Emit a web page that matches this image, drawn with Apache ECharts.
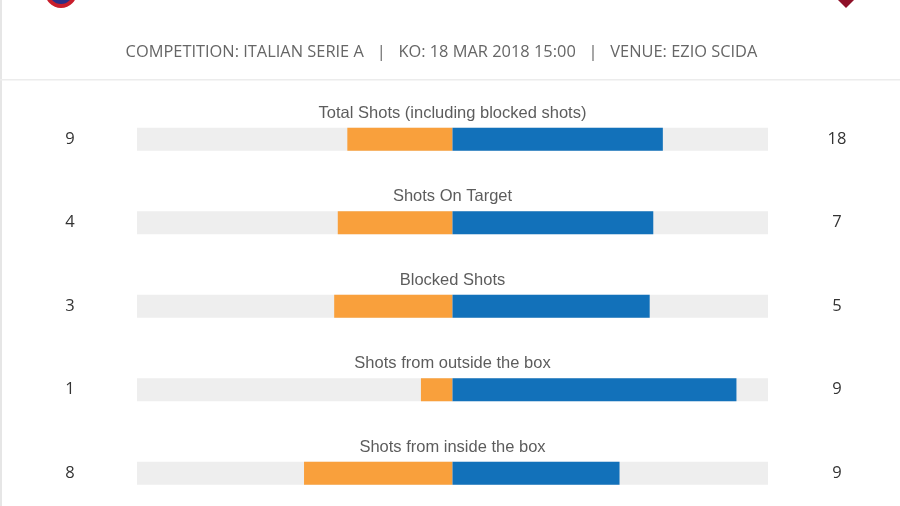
<!DOCTYPE html>
<html>
<head>
<meta charset="utf-8">
<script src="https://cdn.jsdelivr.net/npm/echarts@6/dist/echarts.min.js"></script>
<style>
  html, body { margin: 0; padding: 0; background: #fff; }
  #chart { width: 900px; height: 506px; }
</style>
</head>
<body>
<div id="chart"></div>
<script>
// match stats, home (orange) vs away (blue)
var categories = [
    'Total Shots (including blocked shots)',
    'Shots On Target',
    'Blocked Shots',
    'Shots from outside the box',
    'Shots from inside the box'
];
var homeValues = [9, 4, 3, 1, 8];
var awayValues = [18, 7, 5, 9, 9];

// each side is drawn as its share of the row total
var homeShare = [];
var awayShare = [];
for (var i = 0; i < categories.length; i++) {
    var tot = homeValues[i] + awayValues[i];
    homeShare.push(-homeValues[i] / tot);
    awayShare.push(awayValues[i] / tot);
}

var mychart = echarts.init(document.getElementById('chart'));
var option = {
    animation: false,
    grid: {left: 137, width: 631, top: 97.5, height: 417.5, outerBoundsMode: 'none', containLabel: false},
    xAxis: {
        type: 'value', min: -1, max: 1,
        show: false
    },
    yAxis: [{
        type: 'category', data: categories, inverse: true,
        axisLine: {show: false}, axisTick: {show: false}, splitLine: {show: false},
        axisLabel: {
            margin: 67, align: 'center', color: '#333',
            fontFamily: 'Open Sans', fontSize: 16.5, padding: [3, 0, 0, 0],
            formatter: function (v, idx) { return String(homeValues[idx]); }
        }
    }, {
        type: 'category', data: categories, inverse: true, position: 'right',
        axisLine: {show: false}, axisTick: {show: false}, splitLine: {show: false},
        axisLabel: {
            margin: 69, align: 'center', color: '#333',
            fontFamily: 'Open Sans', fontSize: 16.5, padding: [3, 0, 0, 0],
            formatter: function (v, idx) { return String(awayValues[idx]); }
        }
    }],
    series: [{
        name: 'home', type: 'bar', data: homeShare,
        barWidth: 23, barGap: '-100%',
        itemStyle: {color: '#F9A03C'},
        showBackground: true,
        backgroundStyle: {color: '#EEEEEE'}
    }, {
        name: 'away', type: 'bar', data: awayShare,
        barWidth: 23, barGap: '-100%',
        itemStyle: {color: '#1271BA'}
    }, {
        // row titles sit above the middle of each bar
        name: 'titles', type: 'scatter', symbolSize: 0,
        data: categories.map(function (c, idx) { return [0, idx]; }),
        label: {
            show: true, position: 'inside', offset: [0, -26],
            color: '#333', fontFamily: 'Liberation Sans', fontSize: 16.5,
            formatter: function (p) { return categories[p.dataIndex]; }
        },
        silent: true
    }],
    graphic: [
        {type: 'rect', shape: {x: 0, y: 0, width: 2, height: 506}, style: {fill: '#e6e6e6'}},
        {type: 'rect', shape: {x: 0, y: 79, width: 900, height: 1.5}, style: {fill: '#ececec'}},
        {type: 'circle', shape: {cx: 61, cy: -8, r: 14}, style: {fill: '#2a2f86'}},
        {type: 'circle', shape: {cx: 61, cy: -8, r: 14}, style: {fill: 'none', stroke: '#c81e2c', lineWidth: 4}},
        {type: 'polygon', shape: {points: [[834, -4], [858, -4], [846, 8]]}, style: {fill: '#8e1028'}},
        {
            type: 'text', x: 441.5, y: 52.5,
            style: {
                text: 'COMPETITION: ITALIAN SERIE A   |   KO: 18 MAR 2018 15:00   |   VENUE: EZIO SCIDA',
                fill: '#666', font: '16.4px "Open Sans"', align: 'center', verticalAlign: 'middle'
            }
        }
    ]
};
mychart.setOption(option);
</script>
</body>
</html>
